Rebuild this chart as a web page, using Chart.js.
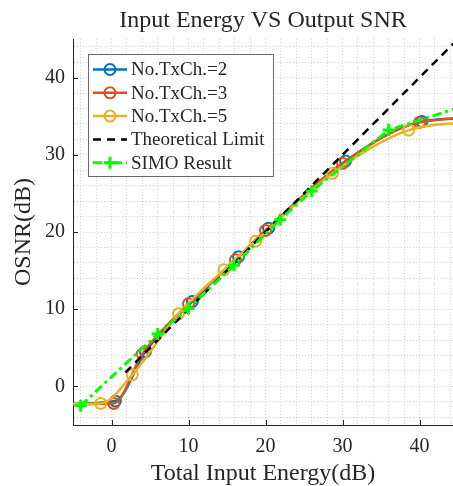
<!DOCTYPE html>
<html>
<head>
<meta charset="utf-8">
<script src="https://cdn.jsdelivr.net/npm/chart.js@4.4.1/dist/chart.umd.min.js"></script>
<style>
  html, body { margin: 0; padding: 0; background: #fff; }
  #wrap { width: 453px; height: 486px; }
</style>
</head>
<body>
<div id="wrap"><canvas id="chart"></canvas></div>
<script>
/* Input Energy VS Output SNR — MATLAB style line chart */

var SERIF = "'Liberation Serif','Times New Roman',serif";
var INK = '#262626';

/* Series data (dB) */
var TX2_X = [-7, 0.5, 4.4, 10.5, 16.5, 20.4, 30.4, 40.3, 48];
var TX2_Y = [-2.3, -1.9, 4.5, 11.0, 16.8, 20.5, 29.2, 34.3, 34.8];
var TX3_X = [-7, 0.3, 4.0, 10.0, 16.1, 20.0, 30.0, 40.0, 48];
var TX3_Y = [-2.3, -2.2, 4.2, 10.7, 16.4, 20.2, 28.9, 34.2, 34.8];
var TX5_X = [-7, -1.4, 2.7, 8.7, 14.6, 18.7, 28.7, 38.6, 48];
var TX5_Y = [-2.3, -2.2, 1.5, 9.4, 15.1, 18.8, 27.6, 33.2, 34.3];
var THEORY_X = [1.8, 46];
var THEORY_Y = [1.8, 46];
var SIMO_X = [-4, 6, 10, 15.9, 21.9, 26, 36, 46];
var SIMO_Y = [-2.5, 6.8, 10.1, 15.7, 21.6, 25.3, 33.2, 36.4];

var LABELS = ['No.TxCh.=2', 'No.TxCh.=3', 'No.TxCh.=5', 'Theoretical Limit', 'SIMO Result'];
var X_MIN = -5, X_MAX = 44.35, Y_MIN = -5, Y_MAX = 45;

function zip(xs, ys) {
  return xs.map(function(x, i) { return { x: x, y: ys[i] }; });
}

function curve(label, xs, ys, color, order) {
  return {
    label: label, data: zip(xs, ys), order: order,
    borderColor: color, borderWidth: 2.5, cubicInterpolationMode: 'monotone',
    pointStyle: 'circle', pointRadius: 5.5, pointBorderWidth: 2,
    pointBorderColor: color, pointBackgroundColor: 'rgba(0,0,0,0)', clip: 0
  };
}

function evenTicks(scale) {
  var t = [];
  for (var v = Math.ceil(scale.min / 2) * 2; v <= scale.max; v += 2) t.push({ value: v });
  scale.ticks = t;
}

/* Legend box drawn inside the plot, top-left, like MATLAB 'northwest' */
var boxLegend = {
  id: 'boxLegend',
  afterDatasetsDraw: function(chart) {
    var ctx = chart.ctx;
    ctx.save();
    ctx.fillStyle = '#fff';
    ctx.fillRect(88.5, 54.5, 185, 122);
    ctx.strokeStyle = '#6a6a6a'; ctx.lineWidth = 1;
    ctx.strokeRect(88.5, 54.5, 185, 122);
    chart.data.datasets.forEach(function(d, i) {
      var y = 69.5 + i * 23.3;
      ctx.strokeStyle = d.borderColor;
      ctx.lineWidth = d.borderWidth;
      ctx.setLineDash(d.borderDash || []);
      ctx.beginPath(); ctx.moveTo(93, y); ctx.lineTo(127, y); ctx.stroke();
      ctx.setLineDash([]);
      if (d.pointRadius) {
        ctx.lineWidth = d.pointBorderWidth;
        ctx.beginPath();
        if (d.pointStyle === 'cross') {
          ctx.moveTo(110 - d.pointRadius, y); ctx.lineTo(110 + d.pointRadius, y);
          ctx.moveTo(110, y - d.pointRadius); ctx.lineTo(110, y + d.pointRadius);
        } else {
          ctx.arc(110, y, d.pointRadius, 0, Math.PI * 2);
        }
        ctx.stroke();
      }
      ctx.fillStyle = INK;
      ctx.font = '19px ' + SERIF;
      ctx.textBaseline = 'middle';
      ctx.fillText(d.label, 131, y + 1);
    });
    ctx.restore();
  }
};

/* Major tick marks pointing inward */
var innerTicks = {
  id: 'innerTicks',
  afterDraw: function(chart) {
    var ctx = chart.ctx, xs = chart.scales.x, ys = chart.scales.y, a = chart.chartArea;
    ctx.save();
    ctx.strokeStyle = INK; ctx.lineWidth = 1;
    ctx.beginPath();
    for (var v = 0; v <= 40; v += 10) {
      var px = Math.round(xs.getPixelForValue(v)) + 0.5;
      ctx.moveTo(px, a.bottom); ctx.lineTo(px, a.bottom - 5);
      var py = Math.round(ys.getPixelForValue(v)) + 0.5;
      ctx.moveTo(a.left, py); ctx.lineTo(a.left + 5, py);
    }
    ctx.stroke();
    ctx.restore();
  }
};

var GRID = { color: 'rgba(0,0,0,0.16)', lineWidth: 1, drawTicks: false };
var BORDER = { color: INK, width: 1, dash: [1, 2] };

new Chart(document.getElementById('chart'), {
  type: 'line',
  data: {
    datasets: [
      curve(LABELS[0], TX2_X, TX2_Y, '#0072BD', 5),
      curve(LABELS[1], TX3_X, TX3_Y, '#D95319', 4),
      curve(LABELS[2], TX5_X, TX5_Y, '#EDB120', 3),
      {
        label: LABELS[3], data: zip(THEORY_X, THEORY_Y), order: 2,
        borderColor: '#000', borderWidth: 2.5, borderDash: [8, 6], pointRadius: 0, clip: 0
      },
      {
        label: LABELS[4], data: zip(SIMO_X, SIMO_Y), order: 1,
        borderColor: '#00FF00', borderWidth: 3, borderDash: [9, 4, 3, 4], tension: 0,
        pointStyle: 'cross', pointRadius: 6, pointBorderWidth: 3,
        pointBorderColor: '#00FF00', clip: 0
      }
    ]
  },
  options: {
    responsive: true, maintainAspectRatio: false, animation: false,
    layout: { padding: 0, autoPadding: false },
    plugins: {
      legend: { display: false },
      tooltip: { enabled: false },
      title: {
        display: true, fullSize: false, text: 'Input Energy VS Output SNR', color: INK,
        font: { family: SERIF, size: 24, weight: 'normal', lineHeight: 1.2 },
        padding: { top: 6.6, bottom: 3.6 }
      }
    },
    scales: {
      x: {
        type: 'linear', min: X_MIN, max: X_MAX,
        afterBuildTicks: evenTicks,
        afterFit: function(s) { s.height = 61; s.paddingLeft = 0; s.paddingRight = 0; },
        grid: GRID, border: BORDER,
        ticks: {
          autoSkip: false, maxRotation: 0, color: INK, padding: 10,
          font: { family: SERIF, size: 20 },
          callback: function(v) { return v % 10 === 0 ? v : ''; }
        },
        title: {
          display: true, text: 'Total Input Energy(dB)', color: INK,
          font: { family: SERIF, size: 24, lineHeight: 1 }, padding: { top: 0, bottom: 0 }
        }
      },
      y: {
        type: 'linear', min: Y_MIN, max: Y_MAX,
        afterBuildTicks: evenTicks,
        afterFit: function(s) { s.width = 73; s.paddingTop = 0; s.paddingBottom = 0; },
        grid: GRID, border: BORDER,
        ticks: {
          autoSkip: false, color: INK, padding: 8,
          font: { family: SERIF, size: 20 },
          callback: function(v) { return v % 10 === 0 ? v : ''; }
        },
        title: {
          display: true, text: 'OSNR(dB)', color: INK,
          font: { family: SERIF, size: 24, lineHeight: 1 }, padding: { top: 12, bottom: 0 }
        }
      }
    }
  },
  plugins: [boxLegend, innerTicks]
});
</script>
</body>
</html>
